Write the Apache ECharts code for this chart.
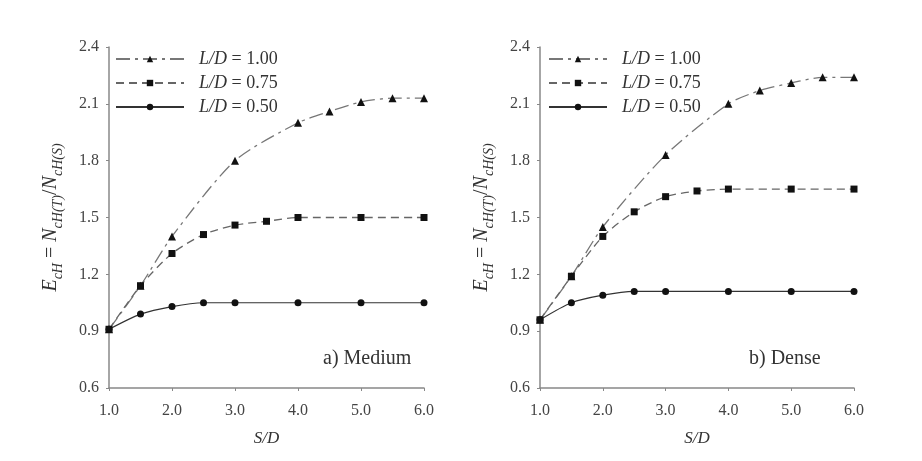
<!DOCTYPE html>
<html>
<head>
<meta charset="utf-8">
<script src="https://cdn.jsdelivr.net/npm/echarts@6/dist/echarts.min.js"></script>
<style>
  html, body { margin: 0; padding: 0; background: #fff; }
  #main { width: 922px; height: 461px; }
</style>
</head>
<body>
<div id="main"></div>
<script>
// S/D positions of the measurements
var sd100 = [1, 1.5, 2, 3, 4, 4.5, 5, 5.5, 6];
var sd075 = [1, 1.5, 2, 2.5, 3, 3.5, 4, 5, 6];
var sd050 = [1, 1.5, 2, 2.5, 3, 4, 5, 6];

// a) Medium
var medium100 = [0.91, 1.14, 1.40, 1.80, 2.00, 2.06, 2.11, 2.13, 2.13];
var medium075 = [0.91, 1.14, 1.31, 1.41, 1.46, 1.48, 1.50, 1.50, 1.50];
var medium050 = [0.91, 0.99, 1.03, 1.05, 1.05, 1.05, 1.05, 1.05];

// b) Dense
var dense100 = [0.96, 1.19, 1.45, 1.83, 2.10, 2.17, 2.21, 2.24, 2.24];
var dense075 = [0.96, 1.19, 1.40, 1.53, 1.61, 1.64, 1.65, 1.65, 1.65];
var dense050 = [0.96, 1.05, 1.09, 1.11, 1.11, 1.11, 1.11, 1.11];

var seriesNames = ['L/D = 1.00', 'L/D = 0.75', 'L/D = 0.50'];
var xTicks = [1, 2, 3, 4, 5, 6];
var panelLabels = ['a) Medium', 'b) Dense'];

var font = 'Liberation Serif';

function pairs(xs, ys) {
    return xs.map(function (x, i) { return [x, ys[i]]; });
}

function makeSeries(idx, d100, d075, d050) {
    return [
        {
            name: seriesNames[0], type: 'line', xAxisIndex: idx, yAxisIndex: idx,
            data: pairs(sd100, d100), symbol: 'triangle', symbolSize: 8, smooth: 0.25,
            itemStyle: { color: '#111' },
            lineStyle: { color: '#777', width: 1.3, type: [14, 5, 3, 5] }
        },
        {
            name: seriesNames[1], type: 'line', xAxisIndex: idx, yAxisIndex: idx,
            data: pairs(sd075, d075), symbol: 'rect', symbolSize: 7, smooth: 0.25,
            itemStyle: { color: '#111' },
            lineStyle: { color: '#666', width: 1.3, type: [8, 5] }
        },
        {
            name: seriesNames[2], type: 'line', xAxisIndex: idx, yAxisIndex: idx,
            data: pairs(sd050, d050), symbol: 'circle', symbolSize: 7, smooth: 0.25,
            itemStyle: { color: '#111' },
            lineStyle: { color: '#333', width: 1.2, type: 'solid' }
        }
    ];
}

function xAxisFor(idx) {
    return {
        type: 'value', gridIndex: idx, min: 1, max: 6, interval: 1,
        name: 'S/D', nameLocation: 'middle', nameGap: 42,
        nameTextStyle: { fontFamily: font, fontStyle: 'italic', fontSize: 17, color: '#333' },
        axisLine: { lineStyle: { color: '#888', width: 1.5 } },
        axisTick: { show: true, length: 3, lineStyle: { color: '#888' } },
        splitLine: { show: false },
        axisLabel: {
            fontFamily: font, fontSize: 16, color: '#444', margin: 15,
            formatter: function (v) { return xTicks.indexOf(v) >= 0 ? v.toFixed(1) : ''; }
        }
    };
}

function yAxisFor(idx) {
    return {
        type: 'value', gridIndex: idx, min: 0.6, max: 2.4, interval: 0.3,
        name: '{i|E}{s|cH}{n| = }{i|N}{s|cH(T)}{n|/}{i|N}{s|cH(S)}',
        nameLocation: 'middle', nameGap: 48,
        nameTextStyle: {
            rich: {
                i: { fontFamily: font, fontStyle: 'italic', fontSize: 20, color: '#333', lineHeight: 24, verticalAlign: 'bottom' },
                s: { fontFamily: font, fontStyle: 'italic', fontSize: 14, color: '#333', lineHeight: 24, verticalAlign: 'bottom', padding: [0, 0, -4, 0] },
                n: { fontFamily: font, fontSize: 20, color: '#333', lineHeight: 24, verticalAlign: 'bottom' }
            }
        },
        axisLine: { show: true, lineStyle: { color: '#888', width: 1.5 } },
        axisTick: { show: true, length: 3, lineStyle: { color: '#888' } },
        splitLine: { show: false },
        axisLabel: {
            fontFamily: font, fontSize: 16, color: '#444', margin: 10,
            formatter: function (v) { return v.toFixed(1); }
        }
    };
}

function legendFor(left, width) {
    return {
        data: seriesNames, orient: 'vertical', left: left, top: 45,
        itemWidth: width, itemHeight: 8, itemGap: 6,
        formatter: function (name) { return '{i|L/D} = ' + name.split('= ')[1]; },
        textStyle: {
            fontFamily: font, fontSize: 18, color: '#333', padding: [0, 0, 0, 10],
            rich: { i: { fontFamily: font, fontStyle: 'italic', fontSize: 18, color: '#333' } }
        },
        selectedMode: false
    };
}

var myChart = echarts.init(document.getElementById('main'));
var option = {
    backgroundColor: '#fff',
    animation: false,
    title: [
        { text: panelLabels[0], left: 318, top: 344, textStyle: { fontFamily: font, fontSize: 20, fontWeight: 'normal', color: '#333' } },
        { text: panelLabels[1], left: 744, top: 344, textStyle: { fontFamily: font, fontSize: 20, fontWeight: 'normal', color: '#333' } }
    ],
    legend: [legendFor(110, 68), legendFor(543, 58)],
    grid: [
        { left: 109, top: 47, width: 315, height: 341 },
        { left: 540, top: 47, width: 314, height: 341 }
    ],
    xAxis: [xAxisFor(0), xAxisFor(1)],
    yAxis: [yAxisFor(0), yAxisFor(1)],
    series: makeSeries(0, medium100, medium075, medium050)
        .concat(makeSeries(1, dense100, dense075, dense050))
};
myChart.setOption(option);
</script>
</body>
</html>
